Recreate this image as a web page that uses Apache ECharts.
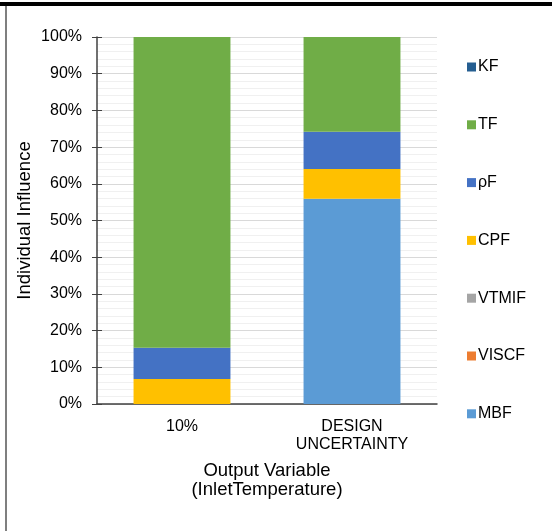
<!DOCTYPE html>
<html>
<head>
<meta charset="utf-8">
<script src="https://cdn.jsdelivr.net/npm/echarts@6/dist/echarts.min.js"></script>
<style>
  html, body { margin: 0; padding: 0; background: #fff; }
  #chart { width: 552px; height: 531px; }
</style>
</head>
<body>
<div id="chart"></div>
<script>
// Categories on the x axis
const categories = ['10%', 'DESIGN\nUNCERTAINTY'];

// Individual influence of each factor, in percent (stack order bottom to top)
const MBF   = [0, 55.9];
const VISCF = [0, 0];
const VTMIF = [0, 0];
const CPF   = [6.8, 8.1];
const rhoF  = [8.5, 10.2];
const TF    = [84.7, 25.8];
const KF    = [0, 0];

const yTicks = [0, 10, 20, 30, 40, 50, 60, 70, 80, 90, 100];

const seriesDefs = [
  { name: 'MBF',   data: MBF,   color: '#5B9BD5' },
  { name: 'VISCF', data: VISCF, color: '#ED7D31' },
  { name: 'VTMIF', data: VTMIF, color: '#A5A5A5' },
  { name: 'CPF',   data: CPF,   color: '#FFC000' },
  { name: 'ρF',    data: rhoF,  color: '#4472C4' },
  { name: 'TF',    data: TF,    color: '#70AD47' },
  { name: 'KF',    data: KF,    color: '#255E91' }
];

const font = 'Liberation Sans, Arial, sans-serif';
const chart = echarts.init(document.getElementById('chart'), null, { renderer: 'canvas' });

const yBase = {
  type: 'value',
  min: yTicks[0],
  max: yTicks[yTicks.length - 1],
  interval: 10,
  position: 'left'
};

chart.setOption({
  animation: false,
  backgroundColor: '#fff',
  textStyle: { fontFamily: font },
  grid: { left: 97, right: 115, top: 37, bottom: 127, containLabel: false },
  legend: {
    orient: 'vertical',
    left: 467,
    top: 59,
    padding: 0,
    itemWidth: 9,
    itemHeight: 9,
    itemGap: 41.8,
    icon: 'rect',
    textStyle: { fontFamily: font, fontSize: 16, color: '#000', padding: [0, 0, 0, -3] },
    data: ['KF', 'TF', 'ρF', 'CPF', 'VTMIF', 'VISCF', 'MBF']
  },
  xAxis: {
    type: 'category',
    data: categories,
    name: 'Output Variable\n(InletTemperature)',
    nameLocation: 'middle',
    nameGap: 57,
    nameMoveOverlap: false,
    nameTextStyle: { fontFamily: font, fontSize: 18.5, color: '#000', lineHeight: 19 },
    axisLine: { lineStyle: { color: '#404040', width: 1.5 } },
    axisTick: { show: false },
    axisLabel: { fontFamily: font, fontSize: 16, color: '#000', margin: 14, lineHeight: 18 }
  },
  yAxis: [
    Object.assign({}, yBase, {
      name: 'Individual Influence',
      nameLocation: 'middle',
      nameGap: 63,
      nameMoveOverlap: false,
      nameTextStyle: { fontFamily: font, fontSize: 18.5, color: '#000' },
      axisLine: { show: true, lineStyle: { color: '#404040', width: 1.5 } },
      axisTick: { show: true, length: 5, lineStyle: { color: '#404040' } },
      axisLabel: { fontFamily: font, fontSize: 16, color: '#000', margin: 15, formatter: '{value}%' },
      splitLine: { show: true, lineStyle: { color: '#d9d9d9', width: 1 } },
      minorTick: { show: false, splitNumber: 5 },
      minorSplitLine: { show: true, lineStyle: { color: '#f0f0f0', width: 1 } }
    }),
    Object.assign({}, yBase, {
      axisLine: { show: false },
      axisTick: { show: true, inside: true, length: 5, lineStyle: { color: '#404040' } },
      axisLabel: { show: false },
      splitLine: { show: false }
    })
  ],
  series: seriesDefs.map(s => ({
    name: s.name,
    type: 'bar',
    stack: 'total',
    barWidth: '57%',
    data: s.data,
    itemStyle: { color: s.color }
  })),
  graphic: [
    { type: 'rect', shape: { x: 0, y: 2, width: 552, height: 4 }, style: { fill: '#000' }, silent: true },
    { type: 'rect', shape: { x: 5, y: 6, width: 2, height: 525 }, style: { fill: '#7f7f7f' }, silent: true }
  ]
});
</script>
</body>
</html>
